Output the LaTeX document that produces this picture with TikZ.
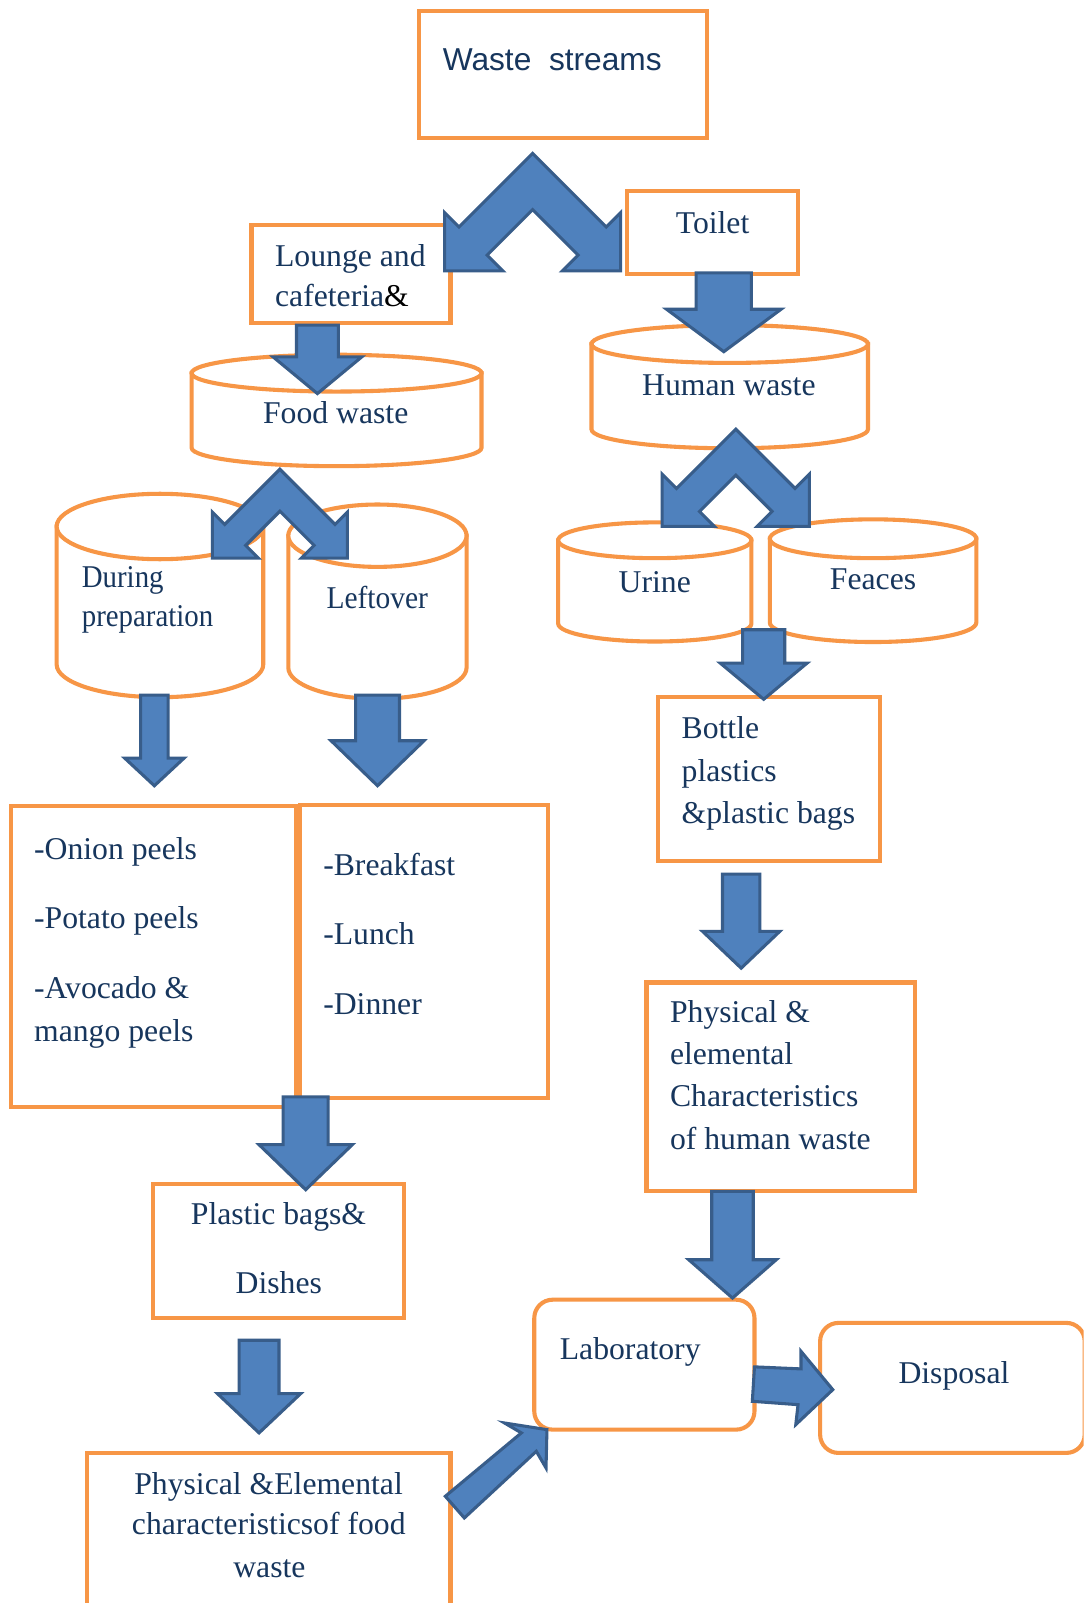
\documentclass[tikz,border=0pt]{standalone}
\usepackage{fontspec}
\setmainfont{Liberation Serif}
\newfontfamily\sansfam{Liberation Sans}
\definecolor{org}{HTML}{F79646}
\definecolor{blfill}{HTML}{4F81BD}
\definecolor{bldraw}{HTML}{385D8A}
\definecolor{txt}{HTML}{17365D}
\newcommand\downarr[6]{\draw[barrow] ({#1-#3},#2) -- ({#1+#3},#2) -- ({#1+#3},#5) -- ({#1+#4},#5) -- (#1,#6) -- ({#1-#4},#5) -- ({#1-#3},#5) -- cycle;}
\newcommand\chevarr[6]{\draw[barrow] (#1,#2) -- ({#1+(#3+#4-#5)/2},{#2+(#3+#4-#5)/2}) -- ({#1+#3},{#2+#4-#5}) -- ({#1+#3},{#2+#4}) -- ({#1+#3-#5},{#2+#4}) -- ({#1+(#3+#4-#5-#6)/2},{#2+(#3+#4-#5+#6)/2}) -- (#1,{#2+#6}) -- ({#1-(#3+#4-#5-#6)/2},{#2+(#3+#4-#5+#6)/2}) -- ({#1-#3+#5},{#2+#4}) -- ({#1-#3},{#2+#4}) -- ({#1-#3},{#2+#4-#5}) -- ({#1-(#3+#4-#5)/2},{#2+(#3+#4-#5)/2}) -- cycle;}
\newcommand\cylshape[5]{%
  \path[cyl] (#1,#3) -- (#1,#4) arc[start angle=180,end angle=0,x radius={(#2-#1)/2},y radius=#5] -- (#2,#3) -- cycle;
  \path[cyl] ({(#1+#2)/2},#3) ellipse[x radius={(#2-#1)/2}, y radius=#5];}
\begin{document}
\begin{tikzpicture}[x=1pt,y=-1pt,
  box/.style={draw=org, line width=4pt, fill=white, inner sep=0pt},
  rbox/.style={box, rounded corners=18pt},
  cyl/.style={draw=org, line width=4pt, fill=white},
  barrow/.style={draw=bldraw, fill=blfill, line width=3pt},
  lbl/.style={text=txt, font=\fontsize{31}{37}\selectfont, inner sep=0pt},
]
\clip (0,0) rectangle (1060,1568);
\useasboundingbox (0,0) rectangle (1060,1568);
\fill[white] (0,0) rectangle (1060,1568);

% boxes
\node[box, minimum width=281.7pt, minimum height=124.9pt] (waste) at (550.85,72.85) {};
\node[box, minimum width=194.7pt, minimum height=96.2pt] (lounge) at (343.35,268.1) {};
\node[box, minimum width=168pt, minimum height=81pt] (toilet) at (697,227.5) {};
\node[box, minimum width=278.7pt, minimum height=295pt] (listA) at (150.55,935.5) {};
\node[box, minimum width=242.6pt, minimum height=287pt] (listB) at (414.7,930.5) {};
\node[box, minimum width=216.8pt, minimum height=160.7pt] (bottle) at (752.2,762.25) {};
\node[box, minimum width=262.4pt, minimum height=204.4pt] (physh) at (763.6,1063.2) {};
\node[box, minimum width=245pt, minimum height=131pt] (plastic) at (272.5,1223.7) {};
\node[box, minimum width=355.9pt, minimum height=188.8pt] (physf) at (262.75,1515.6) {};
\node[rbox, minimum width=215.4pt, minimum height=127.1pt] (lab) at (630.3,1334.85) {};
\node[rbox, minimum width=258.8pt, minimum height=127.2pt] (disp) at (931.6,1357.6) {};

% cylinders
\cylshape{187.4}{471}{365}{438}{18}
\cylshape{55.4}{257.5}{515}{650}{32}
\cylshape{282}{456.4}{524}{653}{30.5}
\cylshape{578.6}{849}{336.5}{420}{18.5}
\cylshape{546}{735}{528.5}{610}{17.5}
\cylshape{753}{955}{527}{609}{19}

% texts
\node[lbl, anchor=base west, font=\sansfam\fontsize{31}{37}\selectfont] (wasteT) at (432.9,69.1) {Waste~~streams};
\node[lbl, anchor=base west] (loungeT1) at (268.9,260.8) {Lounge and};
\node[lbl, anchor=base west] (loungeT2) at (268.9,299.9) {cafeteria{\color{black}\&}};
\node[lbl, anchor=base] (toiletT) at (697,228) {Toilet};
\node[lbl, anchor=base] (foodT) at (328.4,414) {Food waste};
\node[lbl, anchor=base] (humanT) at (713,387.2) {Human waste};
\node[lbl, anchor=base west] (duringT1) at (79.9,575) {\scalebox{0.91}[1]{During}};
\node[lbl, anchor=base west] (duringT2) at (79.9,612.8) {\scalebox{0.91}[1]{preparation}};
\node[lbl, anchor=base] (leftT) at (369,595) {\scalebox{0.93}[1]{Leftover}};
\node[lbl, anchor=base] (urineT) at (640.5,580) {Urine};
\node[lbl, anchor=base] (feacesT) at (854,577) {Feaces};
\node[lbl, anchor=base west] (bottleT1) at (666.6,722) {Bottle};
\node[lbl, anchor=base west] (bottleT2) at (666.6,764.4) {plastics};
\node[lbl, anchor=base west] (bottleT3) at (666.6,805.2) {\&plastic bags};
\node[lbl, anchor=base west] (listAT1) at (33.2,841) {-Onion peels};
\node[lbl, anchor=base west] (listAT2) at (33.2,907.8) {-Potato peels};
\node[lbl, anchor=base west] (listAT3) at (33.2,976.3) {-Avocado \&};
\node[lbl, anchor=base west] (listAT4) at (33.2,1018.6) {mango peels};
\node[lbl, anchor=base west] (listBT1) at (316,856.6) {-Breakfast};
\node[lbl, anchor=base west] (listBT2) at (316,924.1) {-Lunch};
\node[lbl, anchor=base west] (listBT3) at (316,992.6) {-Dinner};
\node[lbl, anchor=base west] (physhT1) at (655.2,1000) {Physical \&};
\node[lbl, anchor=base west] (physhT2) at (655.2,1041.5) {elemental};
\node[lbl, anchor=base west] (physhT3) at (655.2,1082.2) {Characteristics};
\node[lbl, anchor=base west] (physhT4) at (655.2,1124.6) {of human waste};
\node[lbl, anchor=base] (plasticT1) at (272.4,1198) {Plastic bags\&};
\node[lbl, anchor=base] (plasticT2) at (272.7,1264.8) {Dishes};
\node[lbl, anchor=base] (physfT1) at (262.7,1462) {Physical \&Elemental};
\node[lbl, anchor=base] (physfT2) at (262.9,1501) {characteristicsof food};
\node[lbl, anchor=base] (physfT3) at (263.5,1543.5) {waste};
\node[lbl, anchor=base west] (labT) at (547.4,1330) {Laboratory};
\node[lbl, anchor=base west] (dispT) at (878.7,1352.8) {Disposal};

% chevron double arrows
\chevarr{521}{150}{86}{115}{57}{55}
\chevarr{273.8}{459}{66}{87}{45}{41}
\chevarr{719.7}{419.8}{72}{95}{51}{45}

% down arrows
\downarr{310.5}{318}{20.5}{43.5}{349}{385}
\downarr{708}{267}{27}{56}{302.5}{344}
\downarr{151}{680}{13.5}{29}{741.6}{768.6}
\downarr{369.3}{680}{21.5}{45.4}{724.6}{768.6}
\downarr{747}{616}{20.6}{42.4}{648.7}{684}
\downarr{725}{855}{18.3}{37.8}{911}{947}
\downarr{299}{1073}{22}{45.6}{1119.7}{1163.7}
\downarr{716.5}{1165.4}{20.3}{42.8}{1232.2}{1269.7}
\downarr{253.4}{1311}{19.5}{40.7}{1363.2}{1401.6}

% diagonal arrow to laboratory
\draw[barrow] (435.6,1463.6) -- (510,1401.6) -- (493.5,1391.9) -- (535,1398.4) -- (534.1,1435.9) -- (524.6,1419.6) -- (454.2,1484.8) -- cycle;
% arrow laboratory to disposal
\draw[barrow] (738,1337) -- (783.5,1339) -- (783.5,1321.8) -- (814.6,1359.3) -- (778.4,1393.5) -- (780.6,1374) -- (735.9,1370.7) -- cycle;
\end{tikzpicture}
\end{document}
